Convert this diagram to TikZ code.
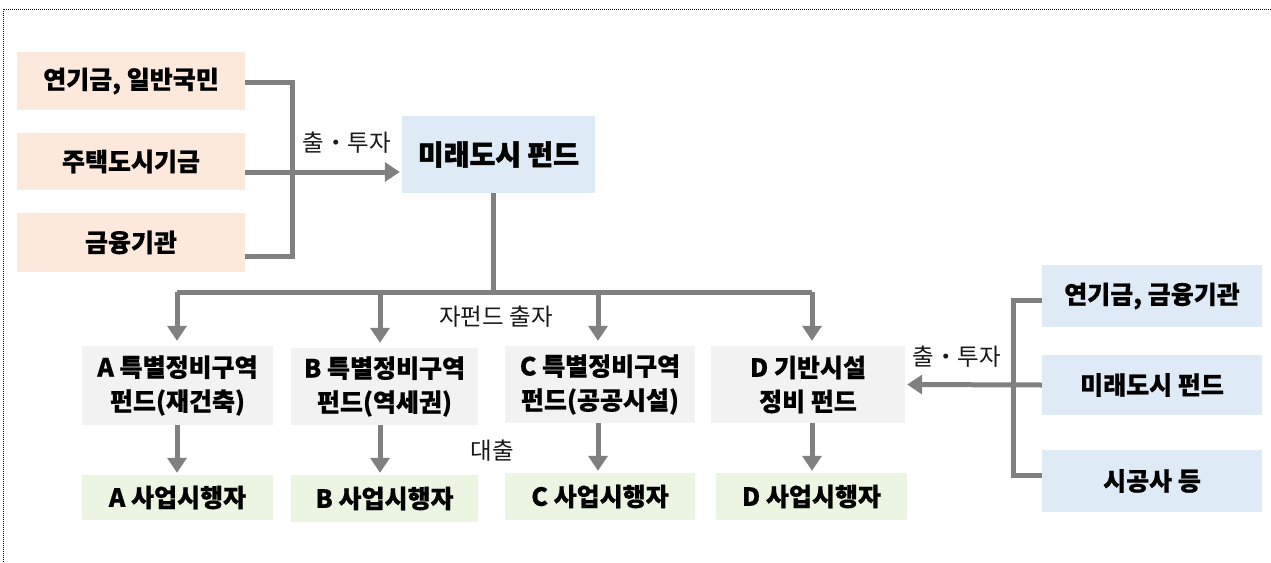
\documentclass[tikz,border=0pt]{standalone}
\usepackage{fontspec}
\setmainfont{Noto Sans CJK KR}[BoldFeatures={FakeBold=0.6}]
\newfontfamily\krheavy{Noto Sans CJK KR}[BoldFeatures={FakeBold=1.8}]
\usetikzlibrary{arrows.meta}
\definecolor{peach}{HTML}{FCE9DB}
\definecolor{lblue}{HTML}{DEEBF7}
\definecolor{lgray}{HTML}{F2F2F2}
\definecolor{lgreen}{HTML}{EBF5E1}
\definecolor{conngray}{HTML}{808080}
\begin{document}
\begin{tikzpicture}[x=1pt,y=-1pt,
  basebox/.style={inner sep=0pt, align=center, text=black,
    font=\fontsize{25}{34}\selectfont\bfseries},
  srcbox/.style={basebox, fill=peach, minimum width=228pt},
  fundbox/.style={basebox, fill=lblue},
  subbox/.style={basebox, fill=lgray},
  opbox/.style={basebox, fill=lgreen},
  conn/.style={draw=conngray, line width=5pt},
  arr/.style={conn, -{Triangle[width=19pt,length=15pt]}},
  lbl/.style={inner sep=0pt, font=\fontsize{23.5}{27}\selectfont, text=black!90}
]
\useasboundingbox (0,0) rectangle (1271,562);
% dotted frame
\draw[line width=1pt, dash pattern=on 1pt off 1pt] (3,562) -- (3,9) -- (1271,9);

% source boxes
\node[srcbox, minimum height=58pt] (o1) at (131,81) {연기금, 일반국민};
\node[srcbox, minimum height=57pt] (o2) at (131,161.5) {주택도시기금};
\node[srcbox, minimum height=59pt] (o3) at (131,242.5) {금융기관};

% main fund
\node[fundbox, minimum width=193pt, minimum height=77pt,
  font=\fontsize{28}{32}\krheavy\bfseries] (m) at (498.5,154.5) {미래도시 펀드};

% sub funds
\node[subbox, minimum width=191pt, minimum height=79pt] (A) at (177.5,385.5) {A 특별정비구역\\펀드(재건축)};
\node[subbox, minimum width=187pt, minimum height=77pt] (B) at (384.5,386.5) {B 특별정비구역\\펀드(역세권)};
\node[subbox, minimum width=190pt, minimum height=77pt] (C) at (600,384.5) {C 특별정비구역\\펀드(공공시설)};
\node[subbox, minimum width=194pt, minimum height=77pt] (D) at (808,384.5) {D 기반시설\\정비 펀드};

% operators
\node[opbox, minimum width=191pt, minimum height=45pt] (a) at (177.5,497.5) {A 사업시행자};
\node[opbox, minimum width=187pt, minimum height=47pt] (b) at (384.5,498.5) {B 사업시행자};
\node[opbox, minimum width=190pt, minimum height=47pt] (c) at (600,496.5) {C 사업시행자};
\node[opbox, minimum width=191pt, minimum height=47pt] (d) at (811.5,496.5) {D 사업시행자};

% right sources
\node[fundbox, minimum width=220pt, minimum height=62pt] (r1) at (1152,296) {연기금, 금융기관};
\node[fundbox, minimum width=220pt, minimum height=60pt] (r2) at (1152,385) {미래도시 펀드};
\node[fundbox, minimum width=220pt, minimum height=62pt] (r3) at (1152,481) {시공사 등};

% helper coordinates
\coordinate (lx) at (292,0);
\coordinate (ya) at (0,172);
\coordinate (y1) at (0,82);
\coordinate (y3) at (0,256);
\coordinate (bus) at (0,292);
\coordinate (mx) at (493,0);
\coordinate (xa) at (177,0);
\coordinate (xb) at (380,0);
\coordinate (xc) at (598,0);
\coordinate (xd) at (812,0);
\coordinate (rx) at (1013,0);
\coordinate (ry1) at (0,300);
\coordinate (ry3) at (0,475);

% left bracket and arrow into main fund
\draw[conn] (o1.east |- y1) -| (lx |- y3) -- (o3.east |- y3);
\draw[arr, shorten >=2pt] (o2.east |- ya) -- (m.west |- ya);
\node[lbl] (l1) at (347,143) {출・투자};

% main fund to sub-funds
\draw[conn] (mx |- m.south) -- (mx |- bus);
\draw[conn] (xa |- bus) -- (xd |- bus);
\draw[arr, shorten >=5pt] (xa |- bus) -- (xa |- A.north);
\draw[arr, shorten >=5pt] (xb |- bus) -- (xb |- B.north);
\draw[arr, shorten >=5pt] (xc |- bus) -- (xc |- C.north);
\draw[arr, shorten >=5pt] (xd |- bus) -- (xd |- D.north);
\node[lbl] (l2) at (496,317) {자펀드 출자};

% loans
\draw[arr, shorten >=2pt] (xa |- A.south) -- (xa |- a.north);
\draw[arr, shorten >=2pt] (xb |- B.south) -- (xb |- b.north);
\draw[arr, shorten >=2pt] (xc |- C.south) -- (xc |- c.north);
\draw[arr, shorten >=2pt] (xd |- D.south) -- (xd |- d.north);
\node[lbl] (l3) at (492,451) {대출};

% right bracket
\draw[conn] (r1.west |- ry1) -| (rx |- ry3) -- (r3.west |- ry3);
\draw[arr, shorten >=2pt] (r2.west) -- (D.east);
\node[lbl] (l4) at (957,357) {출・투자};
\end{tikzpicture}
\end{document}
